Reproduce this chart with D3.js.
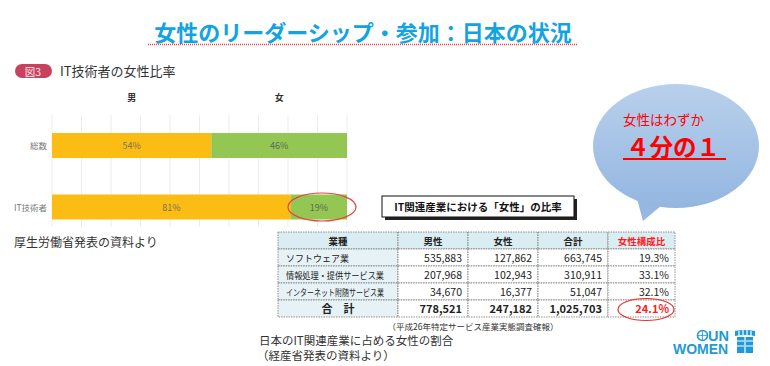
<!DOCTYPE html>
<meta charset="utf-8">
<script src="https://cdn.jsdelivr.net/npm/d3@7"></script>
<style>
body { margin: 0; background: #fff; }
text { font-family: "Noto Sans CJK JP", "Noto Sans", sans-serif; }
</style>
<body>
<script>

// bar chart data (図3)
var barCats = ["総数", "IT技術者"];
var barMale = [54, 81];
var barFemale = [46, 19];
var gridTicks = [0, 10, 20, 30, 40, 50, 60, 70, 80, 90, 100];

// table data
var tblHead = ["業種", "男性", "女性", "合計", "女性構成比"];
var tblInd = ["ソフトウェア業", "情報処理・提供サービス業", "インターネット附随サービス業"];
var tblMale = [535883, 207968, 34670];
var tblFemale = [127862, 102943, 16377];
var tblTotal = [663745, 310911, 51047];
var tblRatio = [19.3, 33.1, 32.1];
var sumRow = ["合　計", 778521, 247182, 1025703, 24.1];

var width = 770, height = 366;

var svg = d3.select("body").append("svg")
    .attr("width", width)
    .attr("height", height);

var defs = svg.append("defs");
var grad = defs.append("linearGradient")
    .attr("id", "bub").attr("x1", 0).attr("y1", 0).attr("x2", 0).attr("y2", 1);
grad.append("stop").attr("offset", "0%").attr("stop-color", "#b9d0ec");
grad.append("stop").attr("offset", "100%").attr("stop-color", "#93b6e0");

// main title
svg.append("text")
    .attr("x", 363).attr("y", 41)
    .attr("text-anchor", "middle")
    .style("font-size", "22px")
    .style("font-weight", 700)
    .style("fill", "#12a3e3")
    .text("女性のリーダーシップ・参加：日本の状況");
svg.append("line")
    .attr("x1", 148).attr("x2", 578).attr("y1", 44.5).attr("y2", 44.5)
    .style("stroke", "#e44")
    .style("stroke-width", 1.3)
    .style("stroke-dasharray", "1,1");

// figure header
svg.append("rect")
    .attr("x", 15).attr("y", 64).attr("width", 37).attr("height", 14)
    .attr("rx", 7)
    .style("fill", "#c8415f");
svg.append("text")
    .attr("x", 33).attr("y", 75.5)
    .attr("text-anchor", "middle")
    .style("font-size", "10.5px")
    .style("fill", "#fbe3e8")
    .text("図3");
svg.append("text")
    .attr("x", 60).attr("y", 76)
    .style("font-size", "13px")
    .style("fill", "#333")
    .text("IT技術者の女性比率");

// bar chart
var x = d3.scaleLinear().domain([0, 100]).range([52, 347]);
var y = d3.scalePoint().domain(barCats).range([145.5, 207]);
var barH = 25;

svg.append("g").selectAll("line")
    .data(gridTicks)
    .enter().append("line")
    .attr("x1", function(d) { return x(d); })
    .attr("x2", function(d) { return x(d); })
    .attr("y1", 115).attr("y2", 227)
    .style("stroke", "#ececec")
    .style("stroke-width", 1);

svg.append("text")
    .attr("x", (x(0) + x(barMale[0])) / 2).attr("y", 101)
    .attr("text-anchor", "middle")
    .style("font-size", "9px").style("font-weight", 700).style("fill", "#333")
    .text("男");
svg.append("text")
    .attr("x", (x(barMale[0]) + x(100)) / 2).attr("y", 101)
    .attr("text-anchor", "middle")
    .style("font-size", "9px").style("font-weight", 700).style("fill", "#333")
    .text("女");

var rows = svg.append("g").selectAll("g")
    .data(barCats)
    .enter().append("g");

rows.append("rect")
    .attr("x", x(0))
    .attr("y", function(d) { return y(d) - barH / 2; })
    .attr("width", function(d, i) { return x(barMale[i]) - x(0); })
    .attr("height", barH)
    .style("fill", "#fbbd13");
rows.append("rect")
    .attr("x", function(d, i) { return x(barMale[i]); })
    .attr("y", function(d) { return y(d) - barH / 2; })
    .attr("width", function(d, i) { return x(100) - x(barMale[i]); })
    .attr("height", barH)
    .style("fill", "#93c653");
rows.append("text")
    .attr("x", function(d, i) { return (x(0) + x(barMale[i])) / 2; })
    .attr("y", function(d) { return y(d) + 3.5; })
    .attr("text-anchor", "middle")
    .style("font-size", "9px").style("fill", "#7a6f55")
    .text(function(d, i) { return barMale[i] + "%"; });
rows.append("text")
    .attr("x", function(d, i) { return (x(barMale[i]) + x(100)) / 2; })
    .attr("y", function(d) { return y(d) + 3.5; })
    .attr("text-anchor", "middle")
    .style("font-size", "9px").style("fill", "#5d6b55")
    .text(function(d, i) { return barFemale[i] + "%"; });
rows.append("text")
    .attr("x", 47)
    .attr("y", function(d) { return y(d) + 3.5; })
    .attr("text-anchor", "end")
    .style("font-size", "8.5px").style("fill", "#777")
    .text(function(d) { return d; });

// red ellipse on 19%
svg.append("ellipse")
    .attr("cx", (x(barMale[1]) + x(100)) / 2 + 3).attr("cy", y(barCats[1]))
    .attr("rx", 34).attr("ry", 14)
    .style("fill", "none").style("stroke", "#e5463c").style("stroke-width", 1.2);

svg.append("text")
    .attr("x", 14).attr("y", 247)
    .style("font-size", "12px").style("fill", "#333")
    .text("厚生労働省発表の資料より");

// table title box
svg.append("rect")
    .attr("x", 385).attr("y", 199).attr("width", 192).attr("height", 21)
    .style("fill", "#222");
svg.append("rect")
    .attr("x", 382).attr("y", 196).attr("width", 192).attr("height", 21)
    .style("fill", "#fff").style("stroke", "#111").style("stroke-width", 1);
svg.append("text")
    .attr("x", 478).attr("y", 210.5)
    .attr("text-anchor", "middle")
    .style("font-size", "10.5px").style("font-weight", 700).style("fill", "#111")
    .text("IT関連産業における「女性」の比率");

// table
var colX = [278, 398, 468, 538, 608, 675];
var rowY = [232, 249, 266, 283, 300, 317];
var fmt = d3.format(",");
var cells = [];
tblHead.forEach(function(h, c) {
  cells.push({r: 0, c: c, t: h, head: true});
});
tblInd.forEach(function(name, i) {
  var vals = [name, fmt(tblMale[i]), fmt(tblFemale[i]), fmt(tblTotal[i]), tblRatio[i].toFixed(1) + "%"];
  vals.forEach(function(v, c) { cells.push({r: i + 1, c: c, t: v}); });
});
sumRow.forEach(function(v, c) {
  var t = c == 0 ? v : (c == 4 ? v.toFixed(1) + "%" : fmt(v));
  cells.push({r: 4, c: c, t: t, sum: true});
});

var tg = svg.append("g");
tg.selectAll("rect")
    .data(cells)
    .enter().append("rect")
    .attr("x", function(d) { return colX[d.c]; })
    .attr("y", function(d) { return rowY[d.r]; })
    .attr("width", function(d) { return colX[d.c + 1] - colX[d.c]; })
    .attr("height", function(d) { return rowY[d.r + 1] - rowY[d.r]; })
    .style("fill", function(d) {
      if (d.head) return "#daedf3";
      if (d.c == 0) return "#e6f2f6";
      return "#fff";
    })
    .style("stroke", "#777")
    .style("stroke-width", 0.8)
    .style("stroke-dasharray", "1.5,1");

tg.selectAll("text")
    .data(cells)
    .enter().append("text")
    .attr("x", function(d) {
      if (d.head || (d.sum && d.c == 0)) return (colX[d.c] + colX[d.c + 1]) / 2;
      if (d.c == 0) return colX[0] + 8;
      return colX[d.c + 1] - 6;
    })
    .attr("y", function(d) { return (rowY[d.r] + rowY[d.r + 1]) / 2 + 4; })
    .attr("text-anchor", function(d) {
      if (d.head || (d.sum && d.c == 0)) return "middle";
      if (d.c == 0) return "start";
      return "end";
    })
    .style("font-size", function(d) {
      if (d.head) return "9.5px";
      if (d.c == 0 && !d.sum) return "9px";
      return d.sum ? "11px" : "10.5px";
    })
    .style("font-weight", function(d) { return (d.head || d.sum) ? 700 : 400; })
    .style("fill", function(d) {
      if (d.head && d.c == 4) return "#ff1a1a";
      if (d.sum && d.c == 4) return "#ff1a1a";
      return "#222";
    })
    .text(function(d) { return d.t; })
    .each(function(d) {
      // squeeze long industry names into the narrow first column
      if (d.c == 0 && !d.head && !d.sum) {
        var w = this.getComputedTextLength();
        var maxW = 98;
        if (w > maxW) d3.select(this).attr("textLength", maxW).attr("lengthAdjust", "spacingAndGlyphs");
      }
    });

svg.append("ellipse")
    .attr("cx", 646).attr("cy", 309.5).attr("rx", 28).attr("ry", 11)
    .style("fill", "none").style("stroke", "#e8322c").style("stroke-width", 1.2);

svg.append("text")
    .attr("x", 473).attr("y", 330)
    .attr("text-anchor", "middle")
    .style("font-size", "8.5px").style("fill", "#333")
    .text("（平成26年特定サービス産業実態調査確報）");
svg.append("text")
    .attr("x", 259).attr("y", 345)
    .style("font-size", "11.5px").style("fill", "#333")
    .text("日本のIT関連産業に占める女性の割合");
svg.append("text")
    .attr("x", 257).attr("y", 360)
    .style("font-size", "11.5px").style("fill", "#333")
    .text("（経産省発表の資料より）");

// speech bubble
svg.append("path")
    .attr("d", "M636,195 L643,221 L668,200 Z")
    .style("fill", "#95b7e0");
svg.append("ellipse")
    .attr("cx", 676).attr("cy", 146).attr("rx", 83).attr("ry", 62)
    .style("fill", "url(#bub)");
svg.append("text")
    .attr("x", 623).attr("y", 125)
    .style("font-size", "13.5px").style("fill", "#ff0000")
    .text("女性はわずか");
svg.append("text")
    .attr("x", 626).attr("y", 156)
    .style("font-size", "23.5px").style("font-weight", 700).style("fill", "#ff0000")
    .text("４分の１");
svg.append("line")
    .attr("x1", 623).attr("x2", 726).attr("y1", 159).attr("y2", 159)
    .style("stroke", "#ff0000").style("stroke-width", 2);

// UN Women logo
var logo = svg.append("g");
var blue = "#1f9ad6";
logo.append("circle")
    .attr("cx", 702.5).attr("cy", 335.5).attr("r", 5)
    .style("fill", "none").style("stroke", blue).style("stroke-width", 1.6);
logo.append("path")
    .attr("d", "M697.5,335.5 L707.5,335.5 M702.5,330.5 L702.5,340.5")
    .style("stroke", blue).style("stroke-width", 0.8);
logo.append("text")
    .attr("x", 708).attr("y", 340.5)
    .style("font-size", "14.5px").style("font-weight", 700).style("fill", blue)
    .style("font-family", "'Liberation Sans', sans-serif")
    .text("UN");
logo.append("text")
    .attr("x", 673).attr("y", 353.5)
    .style("font-size", "14px").style("font-weight", 700).style("fill", blue)
    .style("font-family", "'Liberation Sans', sans-serif")
    .text("WOMEN");
logo.append("path")
    .attr("d", "M735,331 Q745,329 755,331 L755,336 Q745,334 735,336 Z")
    .style("fill", blue);
logo.append("rect")
    .attr("x", 737).attr("y", 337).attr("width", 16).attr("height", 16)
    .style("fill", blue);
logo.append("path")
    .attr("d", "M739,331 L739,336 M743,330 L743,335 M747,330 L747,335 M751,331 L751,336 M737,341 L744,341 M737,346 L744,346 M746,341 L753,341 M746,346 L753,346 M745,337 L745,353")
    .style("stroke", "#fff").style("stroke-width", 1.2);

</script>
</body>
